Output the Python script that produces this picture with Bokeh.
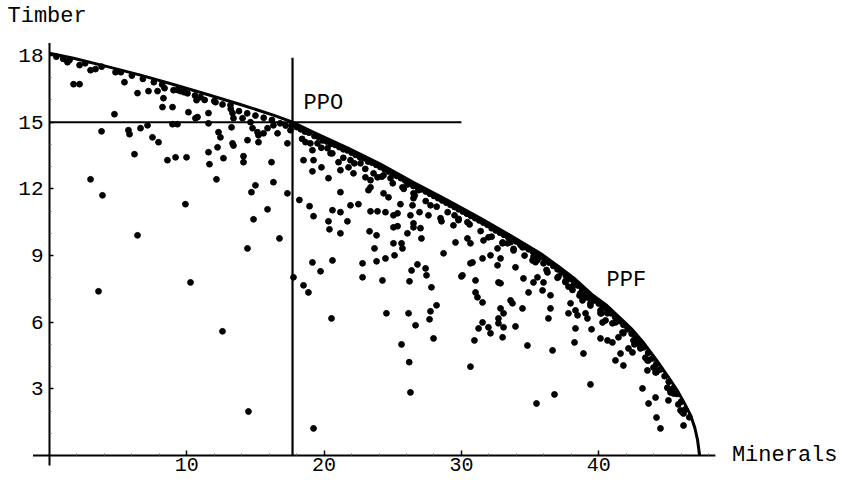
from bokeh.plotting import figure
from bokeh.models import Range1d, FixedTicker, Label
from bokeh.embed import file_html
from bokeh.resources import INLINE

# ---------------- data ----------------
x_ticks = [10, 20, 30, 40]
y_ticks = [3, 6, 9, 12, 15, 18]
x_minor = [2, 4, 6, 8, 12, 14, 16, 18, 22, 24, 26, 28, 32, 34, 36, 38, 42, 44, 46, 48]
y_minor = [1, 2, 4, 5, 7, 8, 10, 11, 13, 14, 16, 17]

# drawn extent of the two axis lines
x_axis_extent = [-1.2, 48.5]
y_axis_extent = [-0.45, 18.56]

# production possibility frontier (Minerals, Timber)
frontier_minerals = [0.0, 1.75, 4.22, 6.63, 9.03, 11.5, 13.9, 16.3, 17.7, 19.2, 21.7, 24.1,
                     26.5, 29.0, 31.4, 33.8, 35.8, 37.2, 38.2, 39.6, 40.6, 41.8, 42.5,
                     43.3, 44.2, 45.0, 45.7, 46.2, 46.7, 47.0, 47.2, 47.35]
frontier_timber = [18.1, 17.88, 17.5, 17.12, 16.7, 16.25, 15.8, 15.32, 15.0, 14.56, 13.85, 13.12,
                   12.3, 11.49, 10.68, 9.82, 9.08, 8.45, 7.98, 7.2, 6.75, 6.05, 5.63,
                   5.05, 4.3, 3.6, 2.95, 2.4, 1.8, 1.25, 0.7, 0.0]

# production possibility optimum
ppo_minerals = 17.7
ppo_timber = 15.0
ppo_hline_end = 30.0
ppo_vline_top = 17.9

# sampled alternatives (Minerals, Timber)
points_left = [
    (1.31, 17.7), (1.46, 17.8), (2.19, 17.57), (2.99, 17.34), (3.35, 17.39), (4.81, 17.25),
    (5.46, 16.8), (1.75, 16.71), (2.19, 16.71), (6.41, 16.31), (7.21, 16.4), (7.87, 16.4),
    (8.3, 16.08), (8.38, 16.53), (9.03, 16.44), (9.32, 16.45), (8.23, 15.68), (8.96, 15.68),
    (10.12, 15.45), (10.78, 15.23), (10.63, 15.18), (11.58, 15.41), (10.71, 15.99), (10.05, 16.3),
    (9.54, 16.4), (11.0, 16.13), (12.09, 15.9), (13.18, 15.77), (13.33, 15.41), (13.4, 15.18),
    (13.26, 14.77), (14.06, 15.18), (14.64, 15.0), (14.79, 14.73), (15.15, 14.55), (15.22, 14.41),
    (15.59, 14.5), (15.88, 14.73), (16.31, 14.86), (16.61, 14.5), (4.73, 15.36), (3.79, 14.59),
    (5.75, 14.64), (5.83, 14.46), (6.63, 14.73), (7.14, 14.86), (7.5, 14.32), (7.94, 14.1),
    (6.19, 13.56), (8.59, 13.29), (9.18, 13.42), (9.98, 13.42), (8.96, 14.91), (9.32, 14.91),
    (11.58, 14.95), (11.58, 13.65), (11.65, 13.11), (12.24, 13.87), (12.31, 14.55), (12.45, 14.32),
    (12.67, 13.38), (13.33, 14.05), (13.4, 13.95), (14.42, 14.19), (14.13, 13.47), (14.13, 13.2),
    (15.22, 14.1), (16.17, 13.2), (17.33, 14.05), (17.55, 14.64), (17.63, 14.86), (12.16, 12.43),
    (14.71, 11.85), (15.0, 12.16), (16.31, 12.3), (17.33, 11.8), (2.99, 12.43), (3.86, 11.71),
    (9.9, 11.31), (6.41, 9.91), (3.57, 7.39), (10.27, 7.79), (12.6, 5.59), (14.42, 9.32),
    (14.86, 10.63), (15.88, 11.08), (16.75, 9.77), (14.49, 1.98), (17.77, 8.02), (18.2, 11.5),
]

points_middle = [
    (18.65, 14.1), (19.15, 13.74), (19.52, 14.05), (20.25, 13.83), (20.47, 13.6), (18.5, 13.29),
    (19.23, 13.29), (19.81, 12.97), (19.15, 12.79), (20.32, 12.48), (21.05, 13.2), (21.19, 12.84),
    (21.78, 12.97), (22.14, 12.7), (21.92, 13.29), (22.65, 13.15), (23.01, 12.52), (23.38, 12.39),
    (23.89, 12.52), (24.33, 12.61), (23.38, 12.07), (23.23, 11.94), (24.84, 12.48), (21.19, 11.85),
    (24.33, 11.8), (24.69, 11.62), (25.71, 12.07), (26.07, 12.2), (26.51, 11.8), (26.51, 11.58),
    (26.87, 11.94),
    (18.94, 11.22), (19.23, 10.77), (19.15, 8.69), (19.74, 8.29), (18.5, 7.66), (18.86, 7.34),
    (20.61, 11.04), (21.19, 10.95), (21.92, 11.26), (22.5, 11.31), (20.32, 10.54), (20.39, 10.18),
    (21.7, 10.54), (21.19, 10.0), (20.61, 8.78), (20.54, 6.17), (23.31, 10.09), (23.82, 9.91),
    (23.67, 9.32), (24.47, 8.87), (23.82, 8.74), (22.8, 8.65), (22.8, 8.02), (24.25, 7.88),
    (23.38, 10.99), (23.89, 10.99), (24.47, 10.95), (25.05, 10.81), (25.35, 10.9), (25.05, 10.27),
    (25.35, 10.32), (25.56, 11.31), (26.44, 11.26), (26.07, 10.0), (26.51, 10.45), (26.51, 10.27),
    (27.02, 10.23), (27.09, 9.77), (25.05, 9.55), (25.64, 9.55), (25.71, 9.32), (25.13, 9.01),
    (26.29, 10.81), (27.6, 10.81), (28.48, 10.68), (26.95, 10.95), (27.75, 11.26), (28.55, 10.54),
    (28.7, 9.1), (29.5, 10.81), (29.79, 10.59), (29.42, 10.36), (30.44, 10.5), (29.57, 9.59),
    (30.44, 9.77), (30.66, 9.55), (31.61, 9.68), (31.97, 9.82), (32.63, 9.32), (32.12, 9.01),
    (31.54, 8.87), (32.63, 8.56), (30.66, 8.65), (30.81, 8.69), (30.08, 8.11), (31.03, 7.88),
    (32.7, 7.79), (31.03, 7.34), (31.17, 7.12), (31.54, 6.89), (31.25, 5.72), (31.54, 5.99),
    (31.97, 5.77), (32.12, 5.5), (32.7, 6.17), (32.7, 5.95), (30.95, 5.18), (26.22, 7.84),
    (26.37, 8.33), (26.8, 8.6), (27.39, 8.42), (27.46, 8.11), (27.82, 7.57), (28.19, 6.76),
    (27.75, 6.49), (27.68, 6.13), (26.66, 5.86), (26.15, 6.4), (27.97, 5.27), (25.64, 5.0),
    (24.54, 6.4), (30.0, 8.06), (30.66, 4.0), (26.29, 2.84), (19.23, 1.22), (26.2, 4.2),
]

points_right = [
    (33.0, 9.59), (33.36, 9.55), (33.8, 9.23), (32.85, 8.87), (33.94, 8.47), (32.85, 7.75),
    (33.58, 6.98), (33.72, 6.85), (34.45, 6.62), (32.85, 6.62), (33.07, 6.4), (33.94, 5.81),
    (33.07, 5.77), (33.0, 5.32), (34.52, 7.97), (35.25, 7.79), (35.54, 8.02), (34.89, 7.34),
    (35.91, 7.43), (36.27, 8.24), (35.98, 7.79), (36.49, 7.21), (36.34, 6.17), (36.49, 6.62),
    (35.54, 8.8), (35.18, 8.78), (34.81, 4.95), (36.64, 4.73), (35.47, 2.34), (36.78, 2.75),
    (38.24, 5.09), (38.89, 4.59), (39.4, 3.2), (37.8, 6.4), (37.95, 6.85), (38.31, 6.53),
    (38.46, 6.31), (39.04, 6.4), (39.18, 6.17), (39.48, 5.68), (39.4, 6.85), (40.13, 6.4),
    (40.28, 5.99), (40.5, 6.08), (40.64, 5.18), (41.0, 5.09), (41.44, 5.32), (41.59, 4.59),
    (41.22, 4.28), (41.8, 4.05), (42.17, 4.82), (42.46, 4.64), (43.04, 4.86), (43.19, 3.02),
    (43.55, 3.83), (44.14, 3.74), (43.63, 2.34), (44.14, 2.61), (45.08, 2.48), (45.23, 2.84),
    (44.21, 1.71), (44.5, 1.22), (46.18, 1.35), (46.18, 1.89), (45.96, 2.03), (43.99, 3.96),
    (43.63, 4.28), (42.75, 5.05), (42.53, 5.18), (40.13, 5.27), (38.31, 5.72), (37.58, 7.8),
    (38.09, 7.6), (38.67, 7.3), (39.26, 7.1), (38.82, 6.98), (33.58, 9.6), (34.45, 9.37),
    (35.25, 8.95), (35.98, 8.65), (37.07, 8.05), (37.58, 7.85), (38.09, 7.45), (38.67, 7.21),
    (39.04, 7.12), (40.13, 6.53), (40.64, 6.4), (41.22, 5.99), (41.73, 5.54), (43.04, 4.82),
    (43.55, 4.28), (44.28, 3.83), (45.23, 2.93), (45.45, 2.79), (46.1, 1.94),
]

points_frontier_band = [
    (0.5, 17.95), (1.0, 17.85), (2.6, 17.65), (3.8, 17.5), (5.2, 17.25), (6.0, 17.1), (6.8, 16.95),
    (7.6, 16.8), (8.2, 16.7), (9.8, 16.35), (10.6, 16.2), (11.3, 16.0), (12.0, 15.95), (12.6, 15.8),
    (13.2, 15.6), (13.8, 15.5), (14.4, 15.4), (15.0, 15.3), (15.6, 15.2), (16.2, 15.1),
    (16.8, 14.95), (17.2, 14.85),
    (18.0, 14.78), (18.3, 14.68), (18.6, 14.58), (18.9, 14.53), (19.3, 14.38), (19.6, 14.33),
    (19.9, 14.18), (20.2, 14.13), (20.5, 14.03), (20.8, 13.98), (21.1, 13.88), (21.4, 13.78),
    (21.7, 13.73), (22.0, 13.63), (22.3, 13.53), (22.6, 13.43), (22.9, 13.38), (23.2, 13.23),
    (23.5, 13.18), (23.8, 13.08), (24.1, 12.98), (24.4, 12.88), (24.7, 12.78), (25.0, 12.68),
    (25.3, 12.58), (25.6, 12.48), (25.9, 12.38), (26.2, 12.28), (26.5, 12.13), (26.8, 12.08),
    (27.1, 11.98), (27.4, 11.88), (27.7, 11.78), (28.0, 11.68), (28.3, 11.58), (28.6, 11.48),
    (28.9, 11.38), (29.2, 11.28), (29.5, 11.18), (29.8, 11.08), (30.1, 10.98), (30.4, 10.88),
    (30.7, 10.78), (31.0, 10.68), (31.3, 10.58), (31.6, 10.48), (31.9, 10.38), (32.2, 10.23),
    (32.5, 10.13), (32.8, 10.03), (33.1, 9.93), (33.4, 9.83), (33.7, 9.73), (34.0, 9.63),
    (34.3, 9.48), (34.6, 9.38), (34.9, 9.28), (35.2, 9.18), (35.5, 9.03), (35.8, 8.93),
    (36.1, 8.83), (36.4, 8.68), (36.7, 8.53), (37.0, 8.38), (37.3, 8.25), (37.6, 8.1),
    (37.9, 7.95), (38.2, 7.8), (38.5, 7.65), (38.8, 7.5), (39.1, 7.3), (39.4, 7.15),
    (39.7, 6.98), (40.0, 6.84), (40.3, 6.7), (40.6, 6.58), (40.9, 6.4), (41.2, 6.22),
    (41.5, 6.05), (41.8, 5.88), (42.1, 5.68), (42.4, 5.48), (42.7, 5.28), (43.0, 5.08),
    (43.3, 4.87), (43.6, 4.62), (43.9, 4.37), (44.2, 4.12), (44.5, 3.87), (44.8, 3.57),
    (45.1, 3.32), (45.4, 3.02), (45.7, 2.77), (46.0, 2.42), (46.3, 2.07), (46.6, 1.72),
    (18.4, 14.25), (19.0, 14.05), (19.8, 13.85), (20.6, 13.6), (21.4, 13.4), (22.2, 13.15),
    (23.0, 12.9), (23.6, 12.7), (24.2, 12.55), (25.0, 12.25), (25.8, 12.0), (26.6, 11.7),
    (27.4, 11.45), (28.2, 11.2), (29.0, 10.95), (29.8, 10.65), (30.6, 10.4), (31.4, 10.1),
    (32.2, 9.85), (33.0, 9.55), (33.8, 9.3), (34.6, 9.0), (35.4, 8.7), (36.2, 8.35),
    (37.0, 8.0), (37.8, 7.6), (38.6, 7.2), (39.4, 6.75), (40.2, 6.4), (41.0, 5.95),
    (41.8, 5.5), (42.6, 5.0), (43.4, 4.4), (44.2, 3.75), (45.0, 3.05), (45.8, 2.3),
]

all_points = points_left + points_middle + points_right + points_frontier_band
minerals = [pt[0] for pt in all_points]
timber = [pt[1] for pt in all_points]

FONT = "Liberation Mono"
TEXT_FS = "22px"

W, H = 843, 480
# frame fills the whole figure; x: 13.73 px per unit, y: 22.22 px per unit
p = figure(width=W, height=H,
           x_range=Range1d(-3.569, 57.83), y_range=Range1d(-1.125, 20.478),
           output_backend="svg", toolbar_location=None, min_border=0)
p.grid.visible = False
p.outline_line_color = None
p.background_fill_color = "white"
p.border_fill_color = "white"

for ax in (p.xaxis[0], p.yaxis[0]):
    ax.fixed_location = 0
    ax.axis_line_color = None
    ax.major_tick_out = 0
    ax.major_tick_line_width = 1.5
    ax.major_tick_line_color = "black"
    ax.minor_tick_in = 2
    ax.minor_tick_out = 0
    ax.minor_tick_line_color = "#666666"
    ax.major_label_text_font = FONT
    ax.major_label_text_color = "black"
p.xaxis[0].ticker = FixedTicker(ticks=x_ticks, minor_ticks=x_minor)
p.yaxis[0].ticker = FixedTicker(ticks=y_ticks, minor_ticks=y_minor)
p.xaxis[0].major_tick_in = 5
p.yaxis[0].major_tick_in = 4
p.xaxis[0].major_label_text_font_size = "20px"
p.xaxis[0].major_label_standoff = 2
p.yaxis[0].major_label_text_font_size = "21px"
p.yaxis[0].major_label_standoff = 6

# axis lines crossing at the origin
p.line(x_axis_extent, [0, 0], line_width=2, color="black")
p.line([0, 0], y_axis_extent, line_width=2, color="black")

# PPO cross lines
p.line([0, ppo_hline_end], [ppo_timber, ppo_timber], line_width=2, color="black")
p.line([ppo_minerals, ppo_minerals], [0, ppo_vline_top], line_width=2.2, color="black")

# frontier
p.line(frontier_minerals, frontier_timber, line_width=3, color="black", line_join="round")

# points
p.scatter(minerals, timber, size=5.8, color="black")

for txt, x, y in [("Timber", -3.06, 19.76), ("PPO", 18.5, 15.86), ("PPF", 40.57, 7.88),
                  ("Minerals", 49.7, 0.0)]:
    p.add_layout(Label(x=x, y=y, text=txt, text_font=FONT, text_font_size=TEXT_FS,
                       text_color="black", text_baseline="middle", text_align="left"))

open("out.html", "w").write(file_html(p, INLINE))
